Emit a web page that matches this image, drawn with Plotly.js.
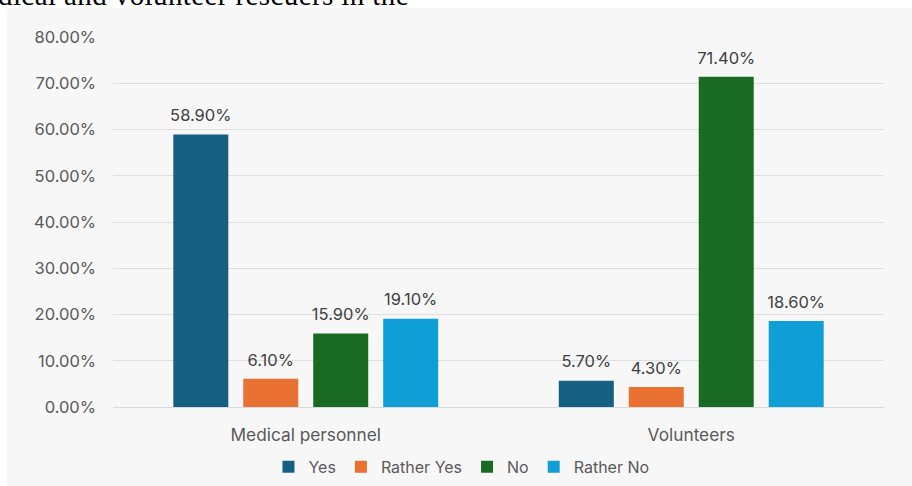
<!DOCTYPE html>
<html>
<head>
<meta charset="utf-8">
<script src="https://cdn.plot.ly/plotly-3.0.1.min.js"></script>
<style>
  html, body { margin:0; padding:0; background:#ffffff; width:912px; height:486px; overflow:hidden; }
  #cap { position:absolute; left:-2px; top:-19px; font-family:"Liberation Serif","DejaVu Serif",serif; font-size:29px; line-height:29px; color:#000; white-space:nowrap; letter-spacing:0.4px; }
  #chart { position:absolute; left:7px; top:8px; width:905px; height:478px; }
</style>
</head>
<body>
<div id="cap">dical and volunteer rescuers in the</div>
<div id="chart"></div>
<script>
const categories = ["Medical personnel", "Volunteers"];
const seriesNames = ["Yes", "Rather Yes", "No", "Rather No"];
const yesVals = [0.589, 0.057];
const ratherYesVals = [0.061, 0.043];
const noVals = [0.159, 0.714];
const ratherNoVals = [0.191, 0.186];
const colors = ["#156082", "#E97132", "#196B24", "#0F9ED5"];
const yTicks = [0, 0.1, 0.2, 0.3, 0.4, 0.5, 0.6, 0.7, 0.8];

const FONT = "Inter, 'Open Sans', sans-serif";
const BARGAP = 0.274;
const allVals = [yesVals, ratherYesVals, noVals, ratherNoVals];
const fmt = d => (d * 100).toFixed(2) + "%";

const barTraces = allVals.map((v, i) => ({
  type: "bar",
  name: seriesNames[i],
  x: categories,
  y: v,
  offsetgroup: "g" + i,
  marker: { color: colors[i], line: { width: 0 } },
  hoverinfo: "none"
}));

const labelTraces = allVals.map((v, i) => ({
  type: "scatter",
  mode: "text+markers",
  name: seriesNames[i] + " label",
  showlegend: false,
  x: categories,
  y: v,
  offsetgroup: "g" + i,
  marker: { size: 13, color: "rgba(0,0,0,0)" },
  text: v.map(fmt),
  textposition: "top center",
  cliponaxis: false,
  textfont: { family: FONT, size: 16.5, color: "#404040" },
  hoverinfo: "none"
}));

const layout = {
  width: 905, height: 478,
  margin: { l: 106, r: 28, t: 29, b: 79, autoexpand: false },
  paper_bgcolor: "#f7f7f7",
  plot_bgcolor: "#f7f7f7",
  font: { family: FONT, color: "#595959", size: 16 },
  barmode: "group",
  bargap: BARGAP,
  bargroupgap: 0.214,
  scattermode: "group",
  scattergap: BARGAP,
  showlegend: true,
  legend: {
    orientation: "h",
    x: 0.452, xanchor: "center",
    y: -0.162, yanchor: "middle",
    font: { family: FONT, size: 16, color: "#595959" },
    bgcolor: "rgba(0,0,0,0)",
    itemwidth: 30,
    traceorder: "normal"
  },
  xaxis: {
    type: "category",
    showgrid: false,
    showline: true,
    linecolor: "#d9d9d9",
    linewidth: 1,
    ticks: "",
    tickfont: { family: FONT, size: 17.3, color: "#595959" },
    ticklabelstandoff: 12,
    fixedrange: true
  },
  yaxis: {
    range: [0, 0.8],
    tickvals: yTicks,
    tickformat: ".2%",
    showgrid: true,
    gridcolor: "#dedede",
    gridwidth: 1,
    zeroline: false,
    showline: false,
    ticks: "",
    ticklabelstandoff: 16,
    tickfont: { family: FONT, size: 16.5, color: "#595959" },
    fixedrange: true
  }
};

Plotly.newPlot("chart", barTraces.concat(labelTraces), layout, { displayModeBar: false, staticPlot: true });
</script>
</body>
</html>
